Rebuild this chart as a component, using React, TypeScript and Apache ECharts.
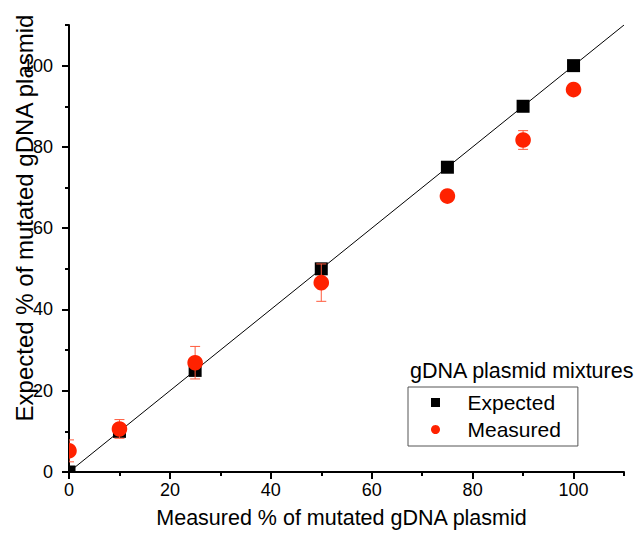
import React, { useEffect, useRef } from "react";
import * as echarts from "echarts";

// ---- data ----
const levels = [0, 10, 25, 50, 75, 90, 100];
const expected = [0, 10, 25, 50, 75, 90, 100];
const measured = [5.2, 10.6, 26.9, 46.6, 67.9, 81.7, 94.1];
const measuredErr = [2.7, 2.3, 4.0, 4.6, 0.9, 2.3, 0.9];
const majorTicks = [0, 20, 40, 60, 80, 100];
const minorTicks = [10, 30, 50, 70, 90, 110];
const fitLine = [
  [0, 0],
  [110, 110],
];
const xTitle = "Measured % of mutated gDNA plasmid";
const yTitle = "Expected % of mutated gDNA plasmid";
const legendTitle = "gDNA plasmid mixtures";

const FONT = "'Liberation Sans', Arial, sans-serif";
const RED = "#ff2200";

export default function App() {
  const ref = useRef<HTMLDivElement>(null);
  useEffect(() => {
    const chart = echarts.init(ref.current!, null, { renderer: "svg" });

    const axisCommon = (isX: boolean, main: boolean) => ({
      type: "value",
      min: 0,
      max: 110,
      position: isX ? "bottom" : "left",
      splitLine: { show: false },
      axisLine: { show: main, lineStyle: { color: "#000", width: 2 } },
      axisTick: {
        show: true,
        length: main ? 7 : 4,
        customValues: main ? majorTicks : minorTicks,
        lineStyle: { color: "#000", width: 2 },
      },
      axisLabel: main
        ? {
            show: true,
            customValues: majorTicks,
            color: "#000",
            fontSize: 18,
            fontFamily: FONT,
            margin: isX ? 9 : 16,
          }
        : { show: false },
    });

    const xMain: any = {
      ...axisCommon(true, true),
      name: xTitle,
      nameLocation: "middle",
      nameGap: 35,
      nameMoveOverlap: false,
      nameTextStyle: { color: "#000", fontSize: 21.5, fontFamily: FONT, padding: [0, 10, 0, 0] },
    };
    const yMain: any = {
      ...axisCommon(false, true),
      name: yTitle,
      nameLocation: "middle",
      nameGap: 33,
      nameMoveOverlap: false,
      nameTextStyle: { color: "#000", fontSize: 24, fontFamily: FONT, padding: [0, 0, 0, 61] },
    };

    const errData = levels.map((x, i) => [x, measured[i] - measuredErr[i], measured[i] + measuredErr[i]]);

    chart.setOption({
      animation: false,
      textStyle: { fontFamily: FONT },
      grid: { left: 69, right: 14, top: 25, bottom: 66, containLabel: false, outerBoundsMode: "none" },
      xAxis: [xMain, axisCommon(true, false)],
      yAxis: [yMain, axisCommon(false, false)],
      title: {
        text: legendTitle,
        left: 410,
        top: 360,
        padding: 0,
        textStyle: { color: "#000", fontSize: 21.5, fontWeight: "normal", fontFamily: FONT },
      },
      legend: {
        orient: "vertical",
        left: 408,
        top: 387,
        padding: [5, 17, 6, 23],
        itemGap: 6,
        itemWidth: 54,
        itemHeight: 9,
        symbolKeepAspect: true,
        borderColor: "#555",
        borderWidth: 1,
        textStyle: { color: "#000", fontSize: 21, fontFamily: FONT },
        data: [
          { name: "Expected", icon: "path://M0 0H10V10H0Z", itemStyle: { color: "#000" } },
          { name: "Measured", icon: "circle", itemStyle: { color: RED } },
        ],
      },
      series: [
        {
          type: "line",
          name: "fit",
          data: fitLine,
          symbol: "none",
          lineStyle: { color: "#000", width: 1 },
          z: 2,
          silent: true,
        },
        {
          type: "custom",
          name: "Expected",
          clip: true,
          itemStyle: { color: "#000" },
          encode: { x: 0, y: 1 },
          data: levels.map((x, i) => [x, expected[i]]),
          z: 1,
          renderItem: (params: any, api: any) => {
            const p = api.coord([api.value(0), api.value(1)]);
            const s = 13;
            return {
              type: "rect",
              shape: { x: p[0] - s / 2, y: p[1] - s / 2, width: s, height: s },
              style: { fill: "#000" },
            };
          },
        },
        {
          type: "custom",
          name: "errors",
          clip: true,
          encode: { x: 0, y: [1, 2] },
          data: errData,
          z: 3,
          renderItem: (params: any, api: any) => {
            const lo = api.coord([api.value(0), api.value(1)]);
            const hi = api.coord([api.value(0), api.value(2)]);
            const c = 5;
            const st = { stroke: "#ff5a3c", lineWidth: 1 };
            return {
              type: "group",
              children: [
                { type: "line", shape: { x1: lo[0], y1: lo[1], x2: hi[0], y2: hi[1] }, style: st },
                { type: "line", shape: { x1: lo[0] - c, y1: lo[1], x2: lo[0] + c, y2: lo[1] }, style: st },
                { type: "line", shape: { x1: hi[0] - c, y1: hi[1], x2: hi[0] + c, y2: hi[1] }, style: st },
              ],
            };
          },
        },
        {
          type: "custom",
          name: "Measured",
          clip: true,
          itemStyle: { color: RED },
          encode: { x: 0, y: 1 },
          data: levels.map((x, i) => [x, measured[i]]),
          z: 4,
          renderItem: (params: any, api: any) => {
            const p = api.coord([api.value(0), api.value(1)]);
            return {
              type: "circle",
              shape: { cx: p[0], cy: p[1], r: 7.8 },
              style: { fill: RED },
            };
          },
        },
      ],
    });
    return () => chart.dispose();
  }, []);
  return (
    <div
      ref={ref}
      style={{ position: "fixed", left: 0, top: 0, width: 638, height: 538, background: "#fff" }}
    />
  );
}
